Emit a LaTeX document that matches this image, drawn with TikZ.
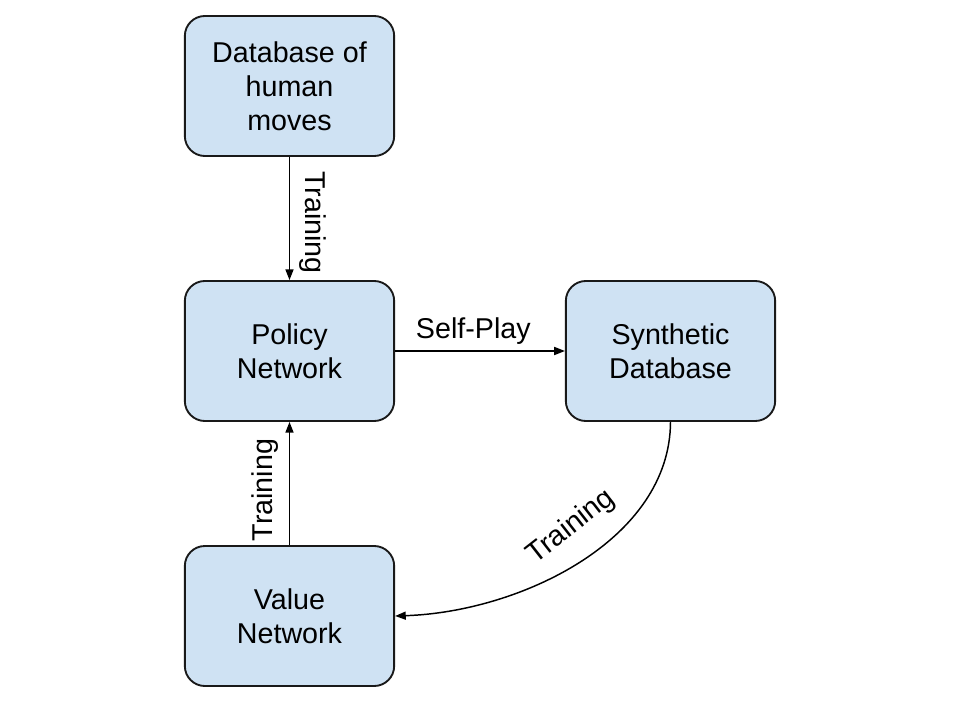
\documentclass[tikz,border=0pt]{standalone}
\usepackage{fontspec}
\setmainfont{Liberation Sans}
\usetikzlibrary{arrows.meta}
\definecolor{boxfill}{HTML}{CFE2F3}
\begin{document}
\begin{tikzpicture}[x=0.75pt,y=-0.75pt,
  box/.style={draw=black!90, line width=1.4pt, fill=boxfill, rounded corners=15pt,
    minimum width=157pt, minimum height=105pt, align=center, inner sep=0pt,
    font=\fontsize{21.5}{25.5}\selectfont},
  lbl/.style={font=\fontsize{21.5}{25.5}\selectfont, inner sep=0pt},
  conn/.style={line width=1.1pt, -{Triangle[length=8pt,width=6pt]}}]
\useasboundingbox (0,0) rectangle (960,720);
\node[box] (db) at (289.5,86) {Database of\\human\\moves};
\node[box] (pol) at (289.5,351) {Policy\\Network};
\node[box] (syn) at (670.5,351) {Synthetic\\Database};
\node[box] (val) at (289.5,616) {Value\\Network};
\draw[conn] (db.south) -- (pol.north) node[lbl, midway, rotate=-90, anchor=south, yshift=7pt, xshift=3pt] {Training};
\draw[conn] (val.north) -- (pol.south) node[lbl, midway, rotate=90, anchor=south, yshift=8pt, xshift=-5pt] {Training};
\draw[conn] (pol.east) -- (syn.west) node[lbl, midway, anchor=south, yshift=4pt, xshift=-5pt] {Self-Play};
\draw[conn] (syn.south) .. controls (670,540) and (520,612) .. (val.east);
\node[lbl, rotate=38] (tl) at (571,527) {Training};
\end{tikzpicture}
\end{document}
